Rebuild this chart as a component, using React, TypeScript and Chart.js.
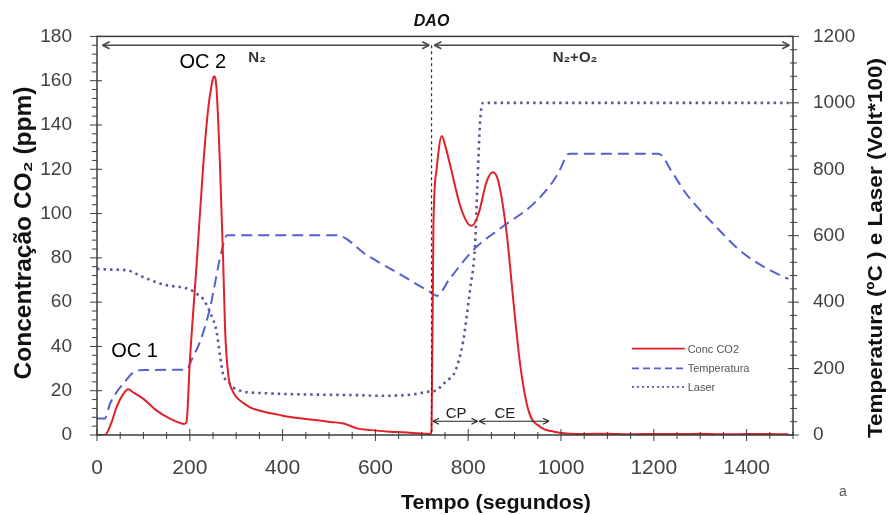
import React, { useEffect, useRef } from "react";
import { Chart, registerables } from "chart.js";

Chart.register(...registerables);

const FONT = '"Liberation Sans", Arial, Helvetica, sans-serif';

// CO2 concentration (ppm), left axis
const co2Time = [0, 17, 30, 42, 55, 67, 80, 100, 128, 157, 182, 188, 193, 200, 215, 229, 240, 247, 252, 257, 265, 272, 276, 283, 292, 301, 315, 330, 360, 390, 416, 450, 480, 502, 531, 545, 560, 590, 631, 660, 690, 718, 721, 725, 732, 743, 750, 761, 782, 800, 808, 822, 840, 853, 865, 883, 897, 912, 930, 955, 985, 1012, 1050, 1100, 1150, 1200, 1250, 1300, 1350, 1400, 1450, 1490];
const co2Value = [0, 0, 5, 12.5, 18, 20.7, 19, 16.3, 11.1, 7.4, 5.2, 5, 6, 33, 78, 122, 148, 158, 162, 158, 122, 78, 48, 27, 20, 17, 14.5, 12.5, 10.5, 9.2, 8.1, 7.2, 6.5, 5.9, 5.2, 4.2, 3, 2.2, 1.5, 1.2, 0.8, 0.5, 2, 94, 120, 135, 131, 122, 104, 95.3, 94.5, 99.7, 114.5, 118.6, 114.5, 90.9, 61.3, 31.8, 11, 3.7, 1.5, 0.7, 0.5, 0.6, 0.3, 0.5, 0.4, 0.6, 0.3, 0.4, 0.5, 0.3];

// Temperature (ºC), right axis
const tempTime = [0, 17, 28, 64, 80, 103, 193, 205, 222, 243, 269, 280, 517, 581, 650, 721, 732, 760, 811, 868, 940, 983, 1000, 1012, 1020, 1210, 1240, 1271, 1328, 1393, 1476, 1490];
const tempValue = [50, 50, 94, 167, 190, 196, 197, 230, 281, 379, 557, 601, 601, 542, 486, 428, 419, 470, 557, 621, 695, 764, 805, 842, 847, 847, 790, 724, 636, 547, 478, 470];

// Laser (Volt*100), right axis
const laserTime = [0, 30, 64, 100, 143, 200, 215, 229, 245, 258, 265, 272, 283, 294, 315, 360, 416, 500, 560, 617, 680, 718, 730, 746, 760, 772, 789, 797, 804, 815, 820, 826, 833, 900, 1000, 1100, 1200, 1300, 1400, 1490];
const laserValue = [500, 498, 496, 475, 453, 438, 425, 409, 365, 310, 240, 182, 160, 143, 131, 126, 123, 121, 120, 118, 122, 131, 133, 153, 170, 192, 281, 360, 438, 576, 760, 951, 1000, 1000, 1000, 1000, 1000, 1000, 1000, 1000];

const xTicks = [0, 200, 400, 600, 800, 1000, 1200, 1400];
const yLeftTicks = [0, 20, 40, 60, 80, 100, 120, 140, 160, 180];
const yRightTicks = [0, 200, 400, 600, 800, 1000, 1200];

const seriesNames = ["Conc CO2", "Temperatura", "Laser"];
const dao = 721;

const RED = "rgb(226,32,40)";
const BLUE = "rgb(84,96,204)";
const PURPLE = "rgb(98,84,152)";

export default function App() {
  const ref = useRef<HTMLCanvasElement>(null);

  useEffect(() => {
    const canvas = ref.current;
    if (!canvas) return;
    const toXY = (xs: number[], ys: number[]) => xs.map((x, i) => ({ x, y: ys[i] }));

    const overlay = {
      id: "overlay",
      afterDraw(chart: any) {
        const { ctx, chartArea: ca, scales } = chart;
        const X = (v: number) => scales.x.getPixelForValue(v);
        const YL = (v: number) => scales.y.getPixelForValue(v);
        const line = (x1: number, y1: number, x2: number, y2: number) => {
          ctx.beginPath();
          ctx.moveTo(x1, y1);
          ctx.lineTo(x2, y2);
          ctx.stroke();
        };
        const arrow = (xa: number, xb: number, y: number, h: number) => {
          line(xa, y, xb, y);
          line(xa, y, xa + h, y - h / 2);
          line(xa, y, xa + h, y + h / 2);
          line(xb, y, xb - h, y - h / 2);
          line(xb, y, xb - h, y + h / 2);
        };
        ctx.save();
        // frame
        ctx.strokeStyle = "#3c3c3c";
        ctx.lineWidth = 1.5;
        ctx.strokeRect(ca.left, ca.top, ca.right - ca.left, ca.bottom - ca.top);
        // ticks
        ctx.lineWidth = 1;
        for (let v = 0; v <= 1500; v += 50) {
          const px = X(v);
          const major = v % 200 === 0;
          line(px, ca.bottom - (major ? 6 : 3), px, ca.bottom + (major ? 6 : 4));
        }
        for (let v = 0; v <= 180; v += 4) {
          const py = YL(v);
          const major = v % 20 === 0;
          line(ca.left - (major ? 7 : 5), py, ca.left + (major ? 5 : 0), py);
        }
        for (let v = 0; v <= 1200; v += 40) {
          const py = scales.y1.getPixelForValue(v);
          const major = v % 200 === 0;
          line(ca.right - (major ? 5 : 3), py, ca.right + (major ? 6 : 4), py);
        }
        // DAO vertical line
        ctx.strokeStyle = "#333";
        ctx.lineWidth = 1.2;
        ctx.setLineDash([3, 3]);
        line(X(dao), YL(176), X(dao), ca.bottom);
        ctx.setLineDash([]);
        // top arrows
        ctx.strokeStyle = "#4a4a4a";
        ctx.lineWidth = 1.6;
        arrow(X(12), X(716), YL(176), 7);
        arrow(X(727), X(1492), YL(176), 7);
        // CP / CE arrows
        ctx.strokeStyle = "#222";
        ctx.lineWidth = 1.2;
        arrow(X(724), X(820), YL(6.2), 6);
        arrow(X(824), X(974), YL(6.2), 6);

        // texts
        ctx.fillStyle = "#111";
        ctx.textAlign = "center";
        ctx.textBaseline = "middle";
        ctx.font = `bold italic 16px ${FONT}`;
        ctx.fillText("DAO", X(dao), YL(186.7));
        ctx.font = `bold 15px ${FONT}`;
        ctx.fillStyle = "#333";
        ctx.fillText("N₂", X(345), YL(170.2));
        ctx.fillText("N₂+O₂", X(1030), YL(170.2));
        ctx.fillStyle = "#000";
        ctx.font = `20px ${FONT}`;
        ctx.fillText("OC 2", X(228), YL(168.2));
        ctx.fillText("OC 1", X(81), YL(37.5));
        ctx.font = `15px ${FONT}`;
        ctx.fillStyle = "#222";
        ctx.fillText("CP", X(774), YL(9.6));
        ctx.fillText("CE", X(879), YL(9.6));

        // legend
        const legendStyles = [
          { color: RED, dash: [] as number[], width: 1.6 },
          { color: BLUE, dash: [7, 4], width: 1.8 },
          { color: PURPLE, dash: [2, 3], width: 1.8 },
        ];
        const legendY = [39, 30.1, 21.7];
        seriesNames.forEach((name, i) => {
          const s = legendStyles[i];
          ctx.strokeStyle = s.color;
          ctx.lineWidth = s.width;
          ctx.setLineDash(s.dash);
          line(X(1153), YL(legendY[i]), X(1267), YL(legendY[i]));
          ctx.setLineDash([]);
          ctx.fillStyle = "#555";
          ctx.font = `11px ${FONT}`;
          ctx.textAlign = "left";
          ctx.fillText(name, X(1273), YL(legendY[i]) + 1);
        });

        // axis titles
        const stretchText = (text: string, cx: number, cy: number, len: number, font: string, rot: number) => {
          ctx.save();
          ctx.translate(cx, cy);
          ctx.rotate(rot);
          ctx.font = font;
          const w = ctx.measureText(text).width;
          ctx.scale(len / w, 1);
          ctx.textAlign = "center";
          ctx.textBaseline = "middle";
          ctx.fillStyle = "#111";
          ctx.fillText(text, 0, 0);
          ctx.restore();
        };
        stretchText("Concentração CO₂ (ppm)", 25, 233, 293, `bold 23px ${FONT}`, -Math.PI / 2);
        stretchText("Temperatura (ºC ) e Laser (Volt*100)", 876, 248, 380, `bold 20px ${FONT}`, -Math.PI / 2);
        stretchText("Tempo (segundos)", 496, 503, 190, `bold 20px ${FONT}`, 0);
        ctx.font = `14px ${FONT}`;
        ctx.fillStyle = "#555";
        ctx.textAlign = "center";
        ctx.textBaseline = "middle";
        ctx.fillText("a", 843, 492);
        ctx.restore();
      },
    };

    const fmt = (v: any) => String(v);

    const chart = new Chart(canvas, {
      type: "line",
      data: {
        datasets: [
          {
            label: seriesNames[0],
            data: toXY(co2Time, co2Value),
            yAxisID: "y",
            borderColor: RED,
            borderWidth: 2,
            pointRadius: 0,
            cubicInterpolationMode: "monotone",
            order: 0,
          },
          {
            label: seriesNames[1],
            data: toXY(tempTime, tempValue),
            yAxisID: "y1",
            borderColor: BLUE,
            borderWidth: 2,
            borderDash: [11, 6],
            pointRadius: 0,
            cubicInterpolationMode: "monotone",
            order: 1,
          },
          {
            label: seriesNames[2],
            data: toXY(laserTime, laserValue),
            yAxisID: "y1",
            borderColor: PURPLE,
            borderWidth: 2.6,
            borderDash: [2.5, 4],
            pointRadius: 0,
            cubicInterpolationMode: "monotone",
            order: 2,
          },
        ],
      },
      options: {
        animation: false,
        responsive: false,
        maintainAspectRatio: false,
        layout: { padding: { top: 29, left: 0, right: 0, bottom: 0 } },
        plugins: { legend: { display: false }, tooltip: { enabled: false } },
        scales: {
          x: {
            type: "linear",
            min: 0,
            max: 1500,
            afterBuildTicks: (s: any) => {
              s.ticks = xTicks.map((v) => ({ value: v }));
            },
            afterFit: (s: any) => {
              s.height = 80;
            },
            ticks: { callback: fmt, font: { family: FONT, size: 21 }, color: "#424242", padding: 21, maxRotation: 0, autoSkip: false },
            grid: { display: false, drawTicks: false },
            border: { display: false },
          },
          y: {
            type: "linear",
            position: "left",
            min: 0,
            max: 180,
            afterBuildTicks: (s: any) => {
              s.ticks = yLeftTicks.map((v) => ({ value: v }));
            },
            afterFit: (s: any) => {
              s.width = 97;
            },
            ticks: { callback: fmt, font: { family: FONT, size: 19 }, color: "#424242", padding: 25, autoSkip: false },
            grid: { display: false, drawTicks: false },
            border: { display: false },
          },
          y1: {
            type: "linear",
            position: "right",
            min: 0,
            max: 1200,
            afterBuildTicks: (s: any) => {
              s.ticks = yRightTicks.map((v) => ({ value: v }));
            },
            afterFit: (s: any) => {
              s.width = 95;
            },
            ticks: { callback: fmt, font: { family: FONT, size: 19 }, color: "#424242", padding: 20, autoSkip: false },
            grid: { display: false, drawTicks: false },
            border: { display: false },
          },
        },
      },
      plugins: [overlay],
    } as any);

    return () => chart.destroy();
  }, []);

  return (
    <div style={{ position: "absolute", left: 0, top: 0, width: 888, height: 515, background: "#fff" }}>
      <canvas ref={ref} width={888} height={515} style={{ display: "block" }} />
    </div>
  );
}
